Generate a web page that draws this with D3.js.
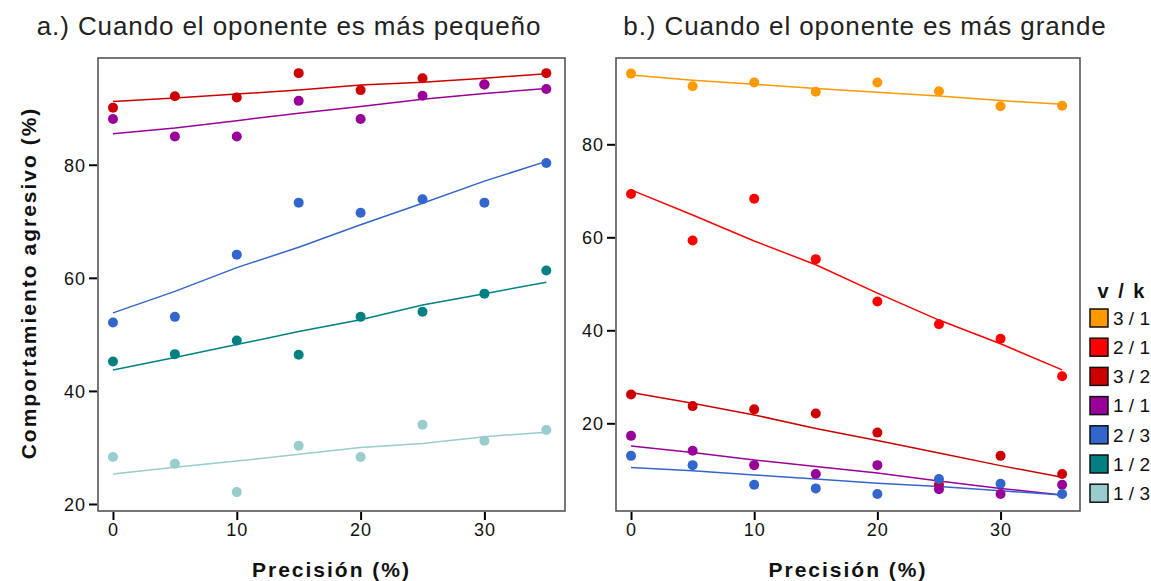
<!DOCTYPE html>
<html>
<head>
<meta charset="utf-8">
<script src="https://cdn.jsdelivr.net/npm/d3@7"></script>
<style>
  body { margin: 0; background: #fff; }
  svg { font-family: "Liberation Sans", Arial, sans-serif; }
  .tick line { stroke: #000; stroke-width: 2; }
  .tick text { font-size: 18px; letter-spacing: 1px; fill: #111; }
</style>
</head>
<body>
<div id="chart"></div>
<script>
// Precisión values on the x axis
const precision = [0, 5, 10, 15, 20, 25, 30, 35];
const xTicks = [0, 10, 20, 30];
const yTicks = [20, 40, 60, 80];

// legend groups (v / k) and their colours
const groups = ["3 / 1", "2 / 1", "3 / 2", "1 / 1", "2 / 3", "1 / 2", "1 / 3"];
const groupColors = ["#ff9900", "#ff0000", "#cc0000", "#990099", "#3366cc", "#008080", "#99cccc"];

// a.) opponent smaller: observed points and fitted curve
const smaller32 = [90.1, 92.1, 91.9, 96.2, 93.2, 95.3, 94.2, 96.2];
const smaller32Fit = [91.2, 91.8, 92.5, 93.2, 94.1, 94.6, 95.3, 96.1];
const smaller11 = [88.1, 85.0, 85.0, 91.3, 88.1, 92.2, 94.2, 93.4];
const smaller11Fit = [85.5, 86.5, 87.8, 89.1, 90.3, 91.6, 92.6, 93.5];
const smaller23 = [52.1, 53.1, 64.1, 73.3, 71.5, 73.9, 73.3, 80.3];
const smaller23Fit = [53.8, 57.6, 61.8, 65.4, 69.4, 73.2, 77.1, 80.6];
const smaller12 = [45.2, 46.5, 48.9, 46.4, 53.1, 54.0, 57.2, 61.3];
const smaller12Fit = [43.7, 45.9, 48.2, 50.5, 52.6, 55.2, 57.2, 59.2];
const smaller13 = [28.3, 27.1, 22.1, 30.3, 28.3, 34.0, 31.2, 33.1];
const smaller13Fit = [25.3, 26.5, 27.6, 28.8, 30.0, 30.7, 31.9, 32.7];

// b.) opponent larger
const larger31 = [95.2, 92.5, 93.3, 91.3, 93.3, 91.4, 88.2, 88.3];
const larger31Fit = [94.9, 93.8, 92.9, 92.0, 91.2, 90.4, 89.4, 88.6];
const larger21 = [69.3, 59.3, 68.3, 55.3, 46.2, 41.3, 38.2, 30.1];
const larger21Fit = [70.2, 64.8, 59.2, 54.1, 48.0, 42.2, 37.1, 31.5];
const larger32 = [26.2, 23.7, 23.0, 22.1, 18.0, 6.8, 13.0, 9.1];
const larger32Fit = [26.6, 24.3, 21.8, 18.9, 16.3, 13.6, 10.9, 8.4];
const larger11 = [17.3, 14.1, 11.0, 9.1, 11.0, 5.8, 4.8, 6.8];
const larger11Fit = [15.1, 13.7, 12.1, 10.7, 9.3, 7.6, 6.0, 4.6];
const larger23 = [13.0, 11.0, 6.8, 6.0, 4.8, 8.0, 7.0, 4.8];
const larger23Fit = [10.5, 9.8, 8.9, 8.0, 7.1, 6.4, 5.5, 4.6];

const color = d3.scaleOrdinal().domain(groups).range(groupColors);

const panels = [
  {
    title: "a.) Cuando el oponente es más pequeño",
    titleX: 289,
    box: { left: 98, right: 565, top: 58, bottom: 511 },
    xDomain: [-1.21, 36.51],
    yDomain: [18.76, 98.88],
    series: [
      { group: "3 / 2", values: smaller32, fit: smaller32Fit },
      { group: "1 / 1", values: smaller11, fit: smaller11Fit },
      { group: "2 / 3", values: smaller23, fit: smaller23Fit },
      { group: "1 / 2", values: smaller12, fit: smaller12Fit },
      { group: "1 / 3", values: smaller13, fit: smaller13Fit }
    ]
  },
  {
    title: "b.) Cuando el oponente es más grande",
    titleX: 865,
    box: { left: 616, right: 1080, top: 58, bottom: 511 },
    xDomain: [-1.22, 36.45],
    yDomain: [1.14, 98.56],
    series: [
      { group: "3 / 1", values: larger31, fit: larger31Fit },
      { group: "2 / 1", values: larger21, fit: larger21Fit },
      { group: "3 / 2", values: larger32, fit: larger32Fit },
      { group: "1 / 1", values: larger11, fit: larger11Fit },
      { group: "2 / 3", values: larger23, fit: larger23Fit }
    ]
  }
];

const svg = d3
  .select("#chart")
  .append("svg")
  .attr("width", 1151)
  .attr("height", 581);

panels.forEach((p) => {
  const x = d3.scaleLinear().domain(p.xDomain).range([p.box.left, p.box.right]);
  const y = d3.scaleLinear().domain(p.yDomain).range([p.box.bottom, p.box.top]);

  // panel title
  svg
    .append("text")
    .attr("x", p.titleX)
    .attr("y", 35)
    .attr("text-anchor", "middle")
    .style("font-size", "26px")
    .style("letter-spacing", "0.9px")
    .style("fill", "#222")
    .text(p.title);

  // fitted curves
  const line = d3
    .line()
    .x((d, i) => x(precision[i]))
    .y((d) => y(d));

  const g = svg.append("g");

  p.series.forEach((s) => {
    g.append("path")
      .datum(s.fit)
      .attr("d", line)
      .attr("fill", "none")
      .attr("stroke", color(s.group))
      .attr("stroke-width", 1.5);
  });

  // observed points
  p.series.forEach((s) => {
    g.selectAll(null)
      .data(s.values)
      .enter()
      .append("circle")
      .attr("cx", (d, i) => x(precision[i]))
      .attr("cy", (d) => y(d))
      .attr("r", 5)
      .attr("fill", color(s.group));
  });

  // plot frame
  svg
    .append("rect")
    .attr("x", p.box.left)
    .attr("y", p.box.top)
    .attr("width", p.box.right - p.box.left)
    .attr("height", p.box.bottom - p.box.top)
    .attr("fill", "none")
    .attr("stroke", "#555")
    .attr("stroke-width", 1.6);

  // axes
  const xAxis = svg
    .append("g")
    .attr("transform", `translate(0,${p.box.bottom + 1})`)
    .call(d3.axisBottom(x).tickValues(xTicks).tickSize(8).tickPadding(3));
  xAxis.select(".domain").remove();

  const yAxis = svg
    .append("g")
    .attr("transform", `translate(${p.box.left - 1},0)`)
    .call(d3.axisLeft(y).tickValues(yTicks).tickSize(8).tickPadding(3));
  yAxis.select(".domain").remove();
  yAxis.selectAll(".tick text").attr("dy", "0.36em");

  // x axis title
  svg
    .append("text")
    .attr("x", (p.box.left + p.box.right) / 2)
    .attr("y", 577)
    .attr("text-anchor", "middle")
    .style("font-size", "21px")
    .style("font-weight", "bold")
    .style("letter-spacing", "2px")
    .style("fill", "#111")
    .text("Precisión (%)");
});

// y axis title (left panel only)
svg
  .append("text")
  .attr("transform", "translate(36,283) rotate(-90)")
  .attr("text-anchor", "middle")
  .style("font-size", "21px")
  .style("font-weight", "bold")
  .style("letter-spacing", "2px")
  .style("fill", "#111")
  .text("Comportamiento agresivo (%)");

// legend
const legend = svg.append("g");

legend
  .append("text")
  .attr("x", 1122)
  .attr("y", 298)
  .attr("text-anchor", "middle")
  .style("font-size", "20px")
  .style("font-weight", "bold")
  .style("letter-spacing", "2px")
  .style("fill", "#111")
  .text("v / k");

const items = legend
  .selectAll(".item")
  .data(groups)
  .enter()
  .append("g")
  .attr("class", "item")
  .attr("transform", (d, i) => `translate(1090,${309 + i * 29.2})`);

items
  .append("rect")
  .attr("width", 18)
  .attr("height", 18)
  .attr("fill", (d) => color(d))
  .attr("stroke", "#111")
  .attr("stroke-width", 1.5);

items
  .append("text")
  .attr("x", 23)
  .attr("y", 9)
  .attr("dy", "0.36em")
  .style("font-size", "19px")
  .style("fill", "#111")
  .text((d) => d);
</script>
</body>
</html>
